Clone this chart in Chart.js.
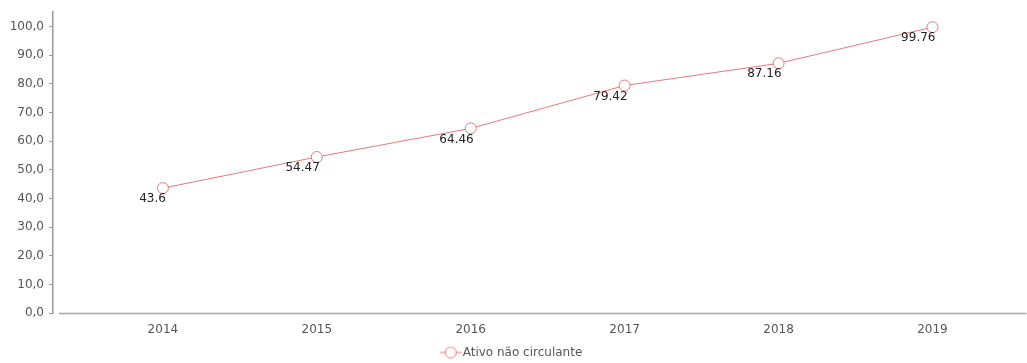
<!DOCTYPE html>
<html>
<head>
<meta charset="utf-8">
<script src="https://cdn.jsdelivr.net/npm/chart.js@4/dist/chart.umd.min.js"></script>
<style>
  html, body { margin: 0; padding: 0; background: #fff; }
  canvas { display: block; }
</style>
</head>
<body>
<canvas id="c" width="1027" height="363"></canvas>
<script>
// Ativo não circulante, 2014–2019
const years = ['2014', '2015', '2016', '2017', '2018', '2019'];
const ativoNaoCirculante = [43.6, 54.47, 64.46, 79.42, 87.16, 99.76];
const yTicks = [0, 10, 20, 30, 40, 50, 60, 70, 80, 90, 100];

const FONT = 'DejaVu Sans';
const lineColor = '#e8787a';

// legend marker: short line with a hollow circle on it
function legendMarker() {
  const cv = document.createElement('canvas');
  cv.width = 22; cv.height = 14;
  const g = cv.getContext('2d');
  g.strokeStyle = lineColor;
  g.lineWidth = 1;
  g.beginPath(); g.moveTo(0, 7); g.lineTo(22, 7); g.stroke();
  g.fillStyle = '#fff';
  g.beginPath(); g.arc(11, 7, 5.5, 0, Math.PI * 2); g.fill(); g.stroke();
  return cv;
}

// value labels just below-left of each point
const valueLabels = {
  id: 'valueLabels',
  afterDatasetsDraw(chart) {
    const ctx = chart.ctx;
    const meta = chart.getDatasetMeta(0);
    const data = chart.data.datasets[0].data;
    ctx.save();
    ctx.font = '12px "' + FONT + '"';
    ctx.fillStyle = '#222';
    ctx.textAlign = 'right';
    ctx.textBaseline = 'middle';
    meta.data.forEach((pt, i) => {
      ctx.fillText(String(data[i].y), pt.x + 3, pt.y + 11);
    });
    ctx.restore();
  }
};

// x axis line, starting a little to the right of the y axis
const xAxisLine = {
  id: 'xAxisLine',
  beforeDatasetsDraw(chart) {
    const { ctx, chartArea } = chart;
    ctx.save();
    ctx.strokeStyle = '#a8a8a8';
    ctx.lineWidth = 1.5;
    ctx.beginPath();
    ctx.moveTo(chartArea.left + 6, chartArea.bottom + 0.5);
    ctx.lineTo(chartArea.right + 6, chartArea.bottom + 0.5);
    ctx.stroke();
    ctx.restore();
  }
};

new Chart(document.getElementById('c'), {
  type: 'line',
  data: {
    datasets: [{
      label: 'Ativo não circulante',
      data: ativoNaoCirculante.map((v, i) => ({ x: i, y: v })),
      borderColor: lineColor,
      borderWidth: 1,
      backgroundColor: '#fff',
      pointRadius: 5.5,
      pointHoverRadius: 5.5,
      pointBorderWidth: 1,
      pointBorderColor: lineColor,
      pointBackgroundColor: '#fff',
      pointStyle: 'circle',
      tension: 0
    }]
  },
  options: {
    responsive: false,
    animation: false,
    events: [],
    layout: { padding: { top: 12, right: 0, left: 0, bottom: -5.5 } },
    plugins: {
      tooltip: { enabled: false },
      legend: {
        position: 'bottom',
        labels: {
          usePointStyle: true,
          pointStyle: legendMarker(),
          font: { family: FONT, size: 12 },
          color: '#555',
          padding: 0
        }
      }
    },
    scales: {
      x: {
        type: 'linear',
        min: -0.714,
        max: 5.572,
        afterBuildTicks(scale) {
          scale.ticks = years.map((_, i) => ({ value: i }));
        },
        ticks: {
          callback: (v) => years[v],
          font: { family: FONT, size: 12 },
          color: '#555',
          padding: 9.5,
          maxRotation: 0,
          autoSkip: false
        },
        grid: { display: false, drawTicks: false },
        border: { display: false }
      },
      y: {
        min: 0,
        max: 105,
        afterBuildTicks(scale) {
          scale.ticks = yTicks.map(v => ({ value: v }));
        },
        afterFit(scale) { scale.width = 53; },
        ticks: {
          callback: (v) => v.toFixed(1).replace('.', ','),
          font: { family: FONT, size: 12 },
          color: '#555',
          padding: 5
        },
        grid: {
          drawOnChartArea: false,
          drawTicks: true,
          tickLength: 4,
          tickColor: '#999'
        },
        border: { display: true, color: '#999', width: 1.5 }
      }
    }
  },
  plugins: [valueLabels, xAxisLine]
});
</script>
</body>
</html>
